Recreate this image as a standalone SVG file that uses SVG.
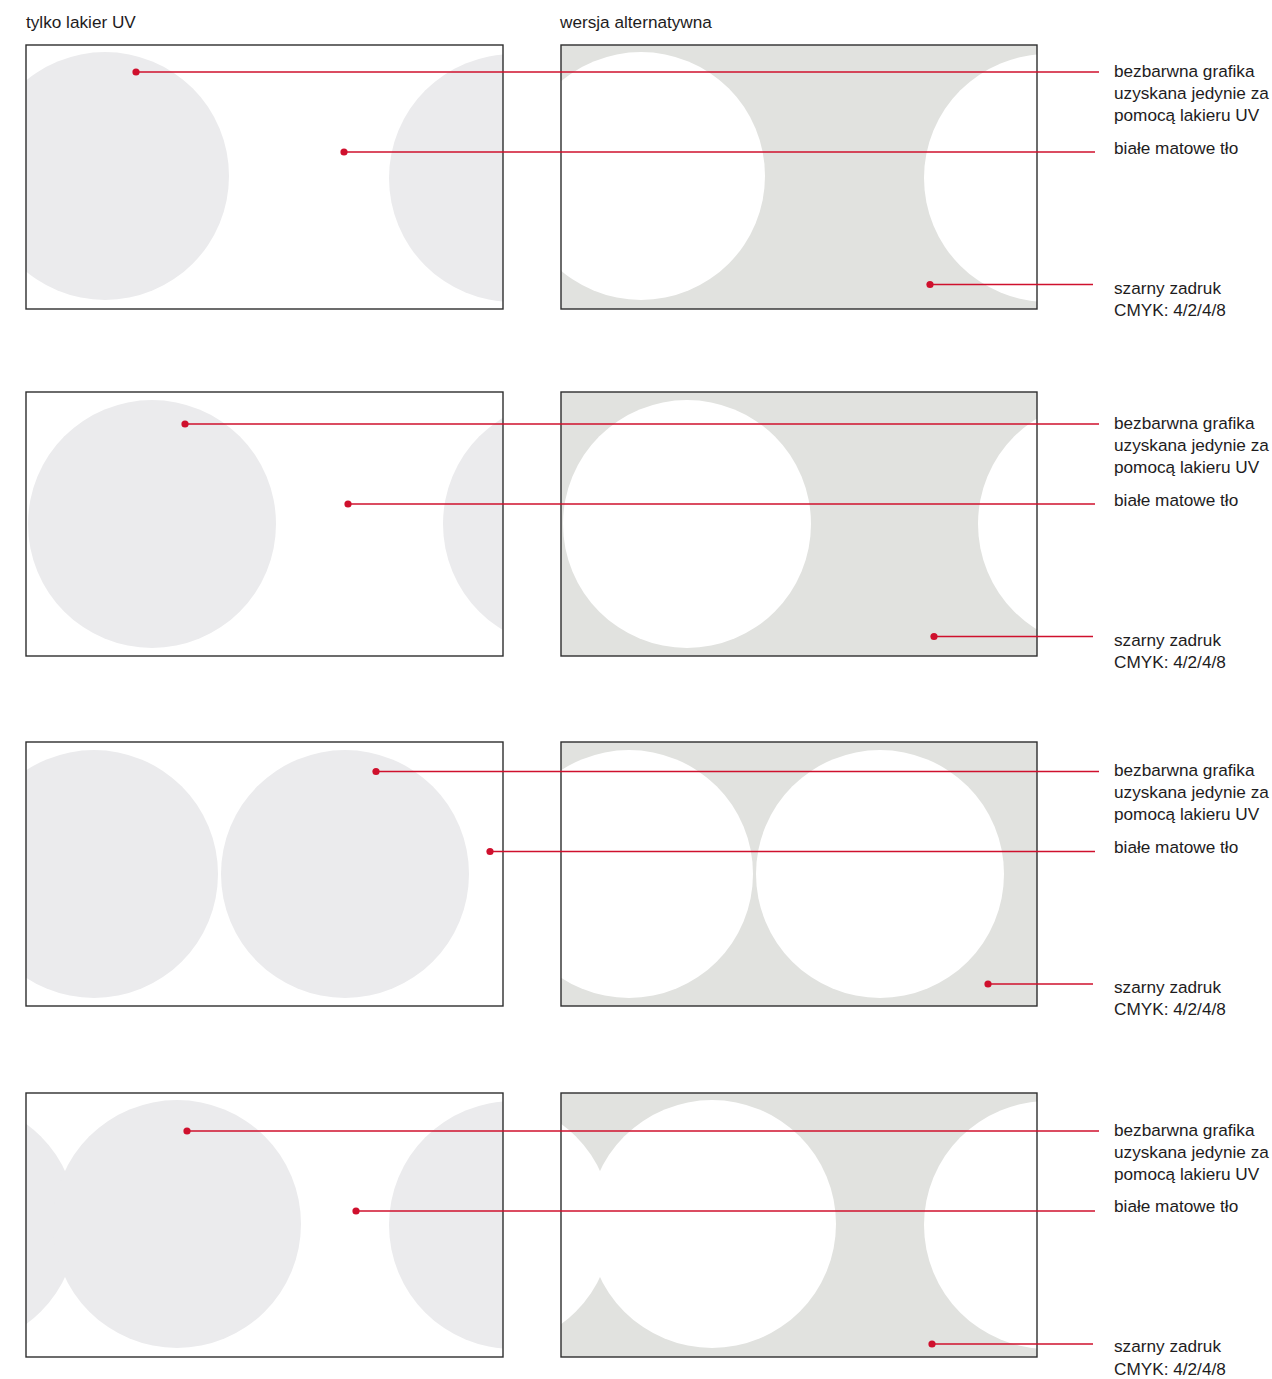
<svg xmlns="http://www.w3.org/2000/svg" width="1272" height="1379" viewBox="0 0 1272 1379">
<style>
text{font-family:"Liberation Sans",Arial,sans-serif;font-size:17.2px;fill:#1e1c1d}
.frame{fill:none;stroke:#2e2e2e;stroke-width:1.4}
.uv{fill:#ebebed}
.print{fill:#e1e2df}
.hole{fill:#ffffff}
.lead{stroke:#cf102d;stroke-width:1.7;fill:none}
.dot{fill:#cf102d}
</style>
<defs>
<clipPath id="c1l"><rect x="26" y="45" width="477" height="264"/></clipPath>
<clipPath id="c1r"><rect x="561" y="45" width="476" height="264"/></clipPath>
<clipPath id="c2l"><rect x="26" y="392" width="477" height="264"/></clipPath>
<clipPath id="c2r"><rect x="561" y="392" width="476" height="264"/></clipPath>
<clipPath id="c3l"><rect x="26" y="742" width="477" height="264"/></clipPath>
<clipPath id="c3r"><rect x="561" y="742" width="476" height="264"/></clipPath>
<clipPath id="c4l"><rect x="26" y="1093" width="477" height="264"/></clipPath>
<clipPath id="c4r"><rect x="561" y="1093" width="476" height="264"/></clipPath>
</defs>
<rect width="1272" height="1379" fill="#ffffff"/>
<g id="headers">
<text x="26" y="28">tylko lakier UV</text>
<text x="560" y="28">wersja alternatywna</text>
</g>
<g id="panel-1-uv">
<g clip-path="url(#c1l)"><circle class="uv" cx="105" cy="176" r="124"/><circle class="uv" cx="513" cy="178" r="124"/></g>
<rect class="frame" x="26" y="45" width="477" height="264"/>
</g>
<g id="panel-1-alt">
<g clip-path="url(#c1r)"><rect class="print" x="561" y="45" width="476" height="264"/><circle class="hole" cx="641" cy="176" r="124"/><circle class="hole" cx="1048" cy="178" r="124"/></g>
<rect class="frame" x="561" y="45" width="476" height="264"/>
</g>
<g id="panel-2-uv">
<g clip-path="url(#c2l)"><circle class="uv" cx="152" cy="524" r="124"/><circle class="uv" cx="567" cy="524" r="124"/></g>
<rect class="frame" x="26" y="392" width="477" height="264"/>
</g>
<g id="panel-2-alt">
<g clip-path="url(#c2r)"><rect class="print" x="561" y="392" width="476" height="264"/><circle class="hole" cx="687" cy="524" r="124"/><circle class="hole" cx="1102" cy="524" r="124"/></g>
<rect class="frame" x="561" y="392" width="476" height="264"/>
</g>
<g id="panel-3-uv">
<g clip-path="url(#c3l)"><circle class="uv" cx="94" cy="874" r="124"/><circle class="uv" cx="345" cy="874" r="124"/></g>
<rect class="frame" x="26" y="742" width="477" height="264"/>
</g>
<g id="panel-3-alt">
<g clip-path="url(#c3r)"><rect class="print" x="561" y="742" width="476" height="264"/><circle class="hole" cx="629" cy="874" r="124"/><circle class="hole" cx="880" cy="874" r="124"/></g>
<rect class="frame" x="561" y="742" width="476" height="264"/>
</g>
<g id="panel-4-uv">
<g clip-path="url(#c4l)"><circle class="uv" cx="-47" cy="1224" r="124"/><circle class="uv" cx="177" cy="1224" r="124"/><circle class="uv" cx="513" cy="1225" r="124"/></g>
<rect class="frame" x="26" y="1093" width="477" height="264"/>
</g>
<g id="panel-4-alt">
<g clip-path="url(#c4r)"><rect class="print" x="561" y="1093" width="476" height="264"/><circle class="hole" cx="488" cy="1224" r="124"/><circle class="hole" cx="712" cy="1224" r="124"/><circle class="hole" cx="1048" cy="1225" r="124"/></g>
<rect class="frame" x="561" y="1093" width="476" height="264"/>
</g>
<g id="connectors">
<line class="lead" x1="136" y1="72" x2="1099" y2="72"/><circle class="dot" cx="136" cy="72" r="3.6"/>
<line class="lead" x1="344" y1="152" x2="1095" y2="152"/><circle class="dot" cx="344" cy="152" r="3.6"/>
<line class="lead" x1="930" y1="284.5" x2="1093" y2="284.5"/><circle class="dot" cx="930" cy="284.5" r="3.6"/>
<line class="lead" x1="185" y1="424" x2="1099" y2="424"/><circle class="dot" cx="185" cy="424" r="3.6"/>
<line class="lead" x1="348" y1="504" x2="1095" y2="504"/><circle class="dot" cx="348" cy="504" r="3.6"/>
<line class="lead" x1="934" y1="636.5" x2="1093" y2="636.5"/><circle class="dot" cx="934" cy="636.5" r="3.6"/>
<line class="lead" x1="376" y1="771.5" x2="1099" y2="771.5"/><circle class="dot" cx="376" cy="771.5" r="3.6"/>
<line class="lead" x1="490" y1="851.5" x2="1095" y2="851.5"/><circle class="dot" cx="490" cy="851.5" r="3.6"/>
<line class="lead" x1="988" y1="984" x2="1093" y2="984"/><circle class="dot" cx="988" cy="984" r="3.6"/>
<line class="lead" x1="187" y1="1131" x2="1099" y2="1131"/><circle class="dot" cx="187" cy="1131" r="3.6"/>
<line class="lead" x1="356" y1="1211" x2="1095" y2="1211"/><circle class="dot" cx="356" cy="1211" r="3.6"/>
<line class="lead" x1="932" y1="1344" x2="1093" y2="1344"/><circle class="dot" cx="932" cy="1344" r="3.6"/>
</g>
<g id="labels-1">
<text x="1114" y="77">bezbarwna grafika</text>
<text x="1114" y="99">uzyskana jedynie za</text>
<text x="1114" y="121">pomocą lakieru UV</text>
<text x="1114" y="153.5">białe matowe tło</text>
<text x="1114" y="293.5">szarny zadruk</text>
<text x="1114" y="316">CMYK: 4/2/4/8</text>
</g>
<g id="labels-2">
<text x="1114" y="429">bezbarwna grafika</text>
<text x="1114" y="451">uzyskana jedynie za</text>
<text x="1114" y="473">pomocą lakieru UV</text>
<text x="1114" y="505.5">białe matowe tło</text>
<text x="1114" y="645.5">szarny zadruk</text>
<text x="1114" y="668">CMYK: 4/2/4/8</text>
</g>
<g id="labels-3">
<text x="1114" y="776">bezbarwna grafika</text>
<text x="1114" y="798">uzyskana jedynie za</text>
<text x="1114" y="820">pomocą lakieru UV</text>
<text x="1114" y="852.5">białe matowe tło</text>
<text x="1114" y="992.5">szarny zadruk</text>
<text x="1114" y="1015">CMYK: 4/2/4/8</text>
</g>
<g id="labels-4">
<text x="1114" y="1135.5">bezbarwna grafika</text>
<text x="1114" y="1157.5">uzyskana jedynie za</text>
<text x="1114" y="1179.5">pomocą lakieru UV</text>
<text x="1114" y="1212">białe matowe tło</text>
<text x="1114" y="1352">szarny zadruk</text>
<text x="1114" y="1374.5">CMYK: 4/2/4/8</text>
</g>
</svg>
